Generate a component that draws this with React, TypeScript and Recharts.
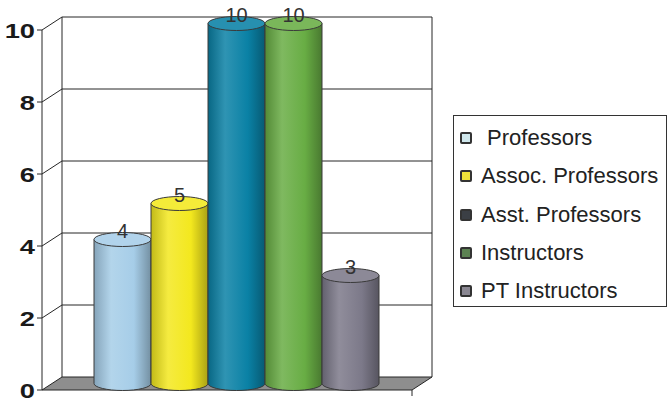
import React from 'react';
import { BarChart, Bar, XAxis, YAxis, CartesianGrid, Legend, LabelList } from 'recharts';

const categories = ['Faculty'];
const seriesNames = [' Professors', 'Assoc. Professors', 'Asst. Professors', 'Instructors', 'PT Instructors'];
const seriesValues = [4, 5, 10, 10, 3];
const seriesColors = ['#a6cde8', '#f3e81e', '#0a81a5', '#68ad44', '#7c7989'];
const legendSwatches = ['#cfe7ec', '#f0e43a', '#3b3f45', '#5c8252', '#8a8792'];
const yTicks = [0, 2, 4, 6, 8, 10];

const data = categories.map((c) => {
  const row: Record<string, string | number> = { name: c };
  seriesNames.forEach((_, i) => (row['s' + i] = seriesValues[i]));
  return row;
});

// 3d depth of the walls
const DX = 20;
const DY = 13;
const LINE = '#262626';

function shade(hex: string, amt: number) {
  const n = parseInt(hex.slice(1), 16);
  const ch = [(n >> 16) & 255, (n >> 8) & 255, n & 255].map((v) =>
    Math.round(amt >= 0 ? v + (255 - v) * amt : v * (1 + amt))
  );
  return '#' + ch.map((v) => v.toString(16).padStart(2, '0')).join('');
}

const WallLine = (props: any) => {
  const { x1, x2, y1, y, height } = props;
  const bottom = y + height;
  if (Math.abs(y1 - bottom) < 0.5) {
    return (
      <g>
        <polygon
          points={`${x1},${y1} ${x2},${y1} ${x2 + DX},${y1 - DY} ${x1 + DX},${y1 - DY}`}
          fill="#8e8e8e"
          stroke={LINE}
        />
        <line x1={x2} y1={y1} x2={x2} y2={y1 + 6} stroke={LINE} />
      </g>
    );
  }
  const isTop = Math.abs(y1 - y) < 0.5;
  return (
    <g stroke={LINE} strokeWidth={1}>
      <line x1={x1} y1={y1} x2={x1 + DX} y2={y1 - DY} />
      <line x1={x1 + DX} y1={y1 - DY} x2={x2 + DX} y2={y1 - DY} />
      {isTop && (
        <>
          <line x1={x1 + DX} y1={y1 - DY} x2={x1 + DX} y2={bottom - DY} />
          <line x1={x2 + DX} y1={y1 - DY} x2={x2 + DX} y2={bottom - DY} />
        </>
      )}
    </g>
  );
};

const Cylinder = (props: any) => {
  const { x, y, width, height, si } = props;
  const color = seriesColors[si];
  const cx = x + width / 2 + DX / 2;
  const top = y - DY / 2;
  const bottom = y + height - DY / 2;
  const rx = width / 2;
  const ry = 7;
  const left = cx - rx;
  const gid = `cyl${si}`;
  return (
    <g>
      <defs>
        <linearGradient id={gid} x1="0" x2="1" y1="0" y2="0">
          <stop offset="0%" stopColor={shade(color, -0.2)} />
          <stop offset="30%" stopColor={shade(color, 0.15)} />
          <stop offset="70%" stopColor={color} />
          <stop offset="100%" stopColor={shade(color, -0.3)} />
        </linearGradient>
      </defs>
      <path
        d={`M${left},${top} L${left},${bottom} A${rx},${ry} 0 0 0 ${left + width},${bottom} L${left + width},${top} Z`}
        fill={`url(#${gid})`}
        stroke="#3a3a3a"
      />
      <ellipse cx={cx} cy={top} rx={rx} ry={ry} fill={shade(color, 0.12)} stroke="#3a3a3a" />
    </g>
  );
};

const ValueLabel = (props: any) => {
  const { x, y, width, value } = props;
  return (
    <text
      x={x + width / 2 + DX / 2}
      y={y - DY / 2 - 2}
      textAnchor="middle"
      fontSize={20}
      fill="#333"
      fontFamily="Liberation Sans, Arial, sans-serif"
    >
      {value}
    </text>
  );
};

const YTick = (props: any) => {
  const { x, y, payload } = props;
  return (
    <g transform={`translate(${x},${y}) scale(1.3,1)`}>
      <text
        x={0}
        y={0}
        dy="0.36em"
        textAnchor="end"
        fontSize={21}
        fontWeight="bold"
        fill="#1a1a1a"
        fontFamily="Liberation Sans, Arial, sans-serif"
      >
        {payload.value}
      </text>
    </g>
  );
};

const LegendBox = (props: any) => {
  const { payload = [] } = props;
  return (
    <div
      style={{
        border: '1.5px solid #333',
        boxSizing: 'border-box',
        width: 214,
        height: 192,
        padding: '3px 0 0 6px',
        fontFamily: 'Liberation Sans, Arial, sans-serif',
        fontSize: 22,
        color: '#222',
      }}
    >
      {payload.map((p: any, i: number) => (
        <div key={i} style={{ display: 'flex', alignItems: 'center', height: 38.3 }}>
          <span
            style={{
              display: 'inline-block',
              width: 8,
              height: 8,
              border: '2px solid #333',
              borderRadius: 2,
              background: legendSwatches[i],
              marginRight: 9,
              flex: 'none',
            }}
          />
          <span style={{ whiteSpace: 'pre' }}>{p.value}</span>
        </div>
      ))}
    </div>
  );
};

export default function App() {
  return (
    <div style={{ position: 'absolute', left: 0, top: 0, background: '#fff' }}>
      <BarChart
        width={668}
        height={403}
        data={data}
        margin={{ top: 30, right: 256, bottom: 13, left: 0 }}
        barGap={0}
        barCategoryGap={42}
      >
        <CartesianGrid vertical={false} horizontal={(p: any) => <WallLine {...p} />} />
        <XAxis dataKey="name" hide />
        <YAxis
          domain={[0, 10]}
          ticks={yTicks}
          interval={0}
          width={42}
          tickSize={5}
          axisLine={{ stroke: LINE }}
          tickLine={{ stroke: LINE }}
          tick={<YTick />}
        />
        <Legend
          layout="vertical"
          align="center"
          verticalAlign="middle"
          content={<LegendBox />}
          wrapperStyle={{ left: 453, top: 115, width: 214, height: 192 }}
        />
        {seriesNames.map((n, i) => (
          <Bar
            key={n}
            dataKey={'s' + i}
            name={n}
            fill={seriesColors[i]}
            isAnimationActive={false}
            shape={(p: any) => <Cylinder {...p} si={i} />}
          >
            <LabelList dataKey={'s' + i} content={<ValueLabel />} />
          </Bar>
        ))}
      </BarChart>
    </div>
  );
}
